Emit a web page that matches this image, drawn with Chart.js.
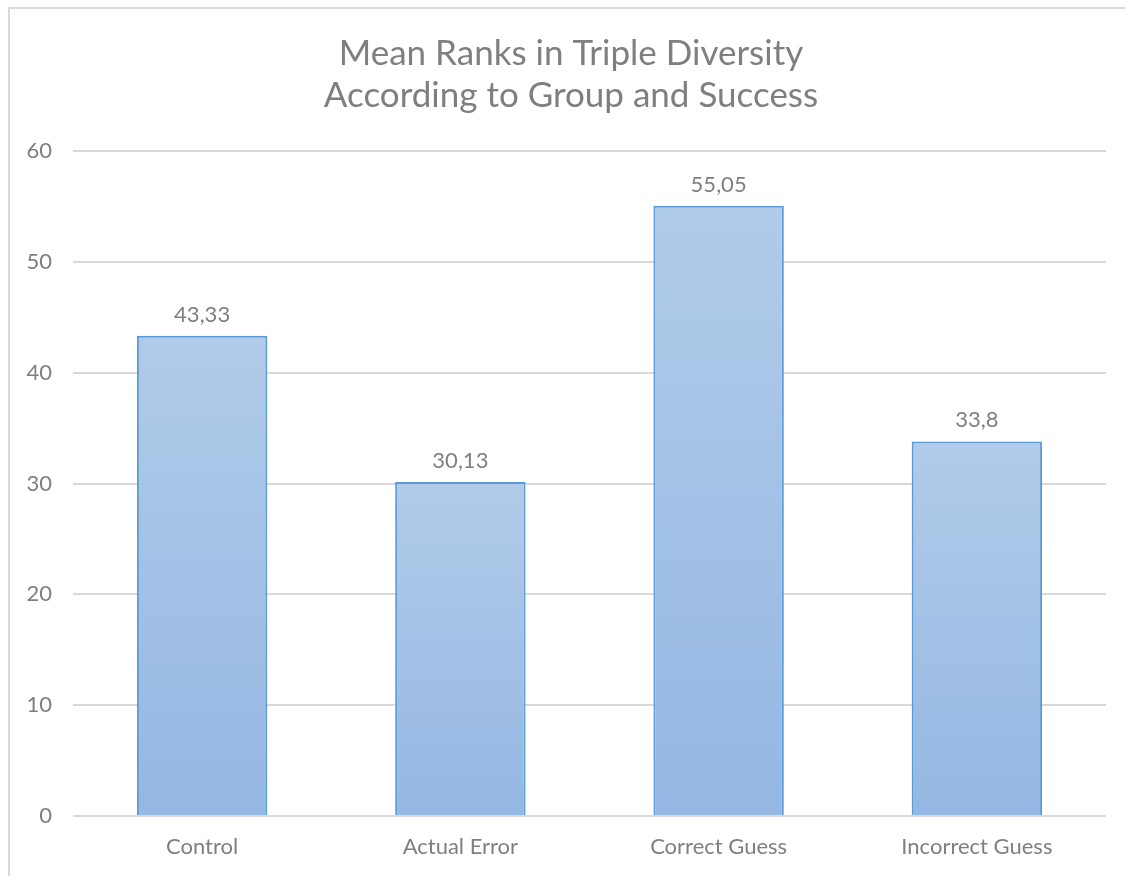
<!DOCTYPE html>
<html>
<head>
<meta charset="utf-8">
<script src="https://cdn.jsdelivr.net/npm/chart.js@4.4.0/dist/chart.umd.min.js"></script>
<style>
  html, body { margin: 0; padding: 0; background: #fff; }
  #wrap { position: relative; width: 1125px; height: 876px; overflow: hidden; }
  #frame { position: absolute; left: 8px; top: 7px; width: 1200px; height: 950px; border: 2px solid #d9d9d9; }
  #chart { position: absolute; left: 0; top: 0; }
</style>
</head>
<body>
<div id="wrap">
  <div id="frame"></div>
  <canvas id="chart" width="1125" height="876"></canvas>
</div>
<script>
// donnees du graphique
const titleLines = ["Mean Ranks in Triple Diversity", "According to Group and Success"];
const categories = ["Control", "Actual Error", "Correct Guess", "Incorrect Guess"];
const meanRanks = [43.33, 30.13, 55.05, 33.8];
const yTicks = [0, 10, 20, 30, 40, 50, 60];

const fontFamily = "Lato, 'Open Sans', sans-serif";
const textGray = "#7f7f7f";

// degrade vertical pour chaque barre (clair en haut, plus fonce en bas)
function barGradient(context) {
  const chart = context.chart;
  const yScale = chart.scales.y;
  if (!chart.chartArea || !yScale) return "#a3c1e6";
  const top = yScale.getPixelForValue(context.raw);
  const bottom = yScale.getPixelForValue(0);
  if (!isFinite(top) || !isFinite(bottom) || top === bottom) return "#a3c1e6";
  const grad = chart.ctx.createLinearGradient(0, top, 0, bottom);
  grad.addColorStop(0, "#b1cbe9");
  grad.addColorStop(1, "#94b7e3");
  return grad;
}

// titre sur deux lignes, centre comme dans l'original
const chartTitle = {
  id: "chartTitle",
  afterDraw(chart) {
    const ctx = chart.ctx;
    ctx.save();
    ctx.font = "35px " + fontFamily;
    ctx.fillStyle = textGray;
    ctx.textAlign = "center";
    ctx.textBaseline = "alphabetic";
    ctx.fillText(titleLines[0], 571, 65);
    ctx.fillText(titleLines[1], 571, 107);
    ctx.restore();
  },
};

// etiquettes de valeur au dessus des barres
const valueLabels = {
  id: "valueLabels",
  afterDatasetsDraw(chart) {
    const ctx = chart.ctx;
    const meta = chart.getDatasetMeta(0);
    ctx.save();
    ctx.font = "22px " + fontFamily;
    ctx.fillStyle = textGray;
    ctx.textAlign = "center";
    ctx.textBaseline = "alphabetic";
    meta.data.forEach((bar, i) => {
      const txt = String(meanRanks[i]).replace(".", ",");
      ctx.fillText(txt, bar.x, bar.y - 14);
    });
    ctx.restore();
  },
};

const ctx = document.getElementById("chart").getContext("2d");
new Chart(ctx, {
  type: "bar",
  data: {
    labels: categories,
    datasets: [
      {
        label: "Mean rank",
        data: meanRanks,
        backgroundColor: barGradient,
        borderColor: "#5b9bd5",
        borderWidth: 2,
        borderSkipped: "bottom",
        categoryPercentage: 1,
        barPercentage: 0.505,
      },
    ],
  },
  options: {
    responsive: false,
    animation: false,
    devicePixelRatio: 1,
    layout: { padding: { left: 0, right: 19, top: 151, bottom: 0 } },
    plugins: {
      legend: { display: false },
      tooltip: { enabled: false },
      title: { display: false },
    },
    scales: {
      x: {
        grid: { display: false, drawTicks: false },
        border: { display: false },
        ticks: { color: textGray, font: { family: fontFamily, size: 22 }, padding: 18 },
        afterFit(scale) { scale.height = 60; },
      },
      y: {
        min: 0,
        max: 60,
        afterBuildTicks(scale) { scale.ticks = yTicks.map((v) => ({ value: v })); },
        grid: { color: "#d9d9d9", lineWidth: 2, drawTicks: false },
        border: { display: false },
        ticks: { color: textGray, font: { family: fontFamily, size: 22 }, padding: 21 },
        afterFit(scale) { scale.width = 73; },
      },
    },
  },
  plugins: [valueLabels, chartTitle],
});
</script>
</body>
</html>
